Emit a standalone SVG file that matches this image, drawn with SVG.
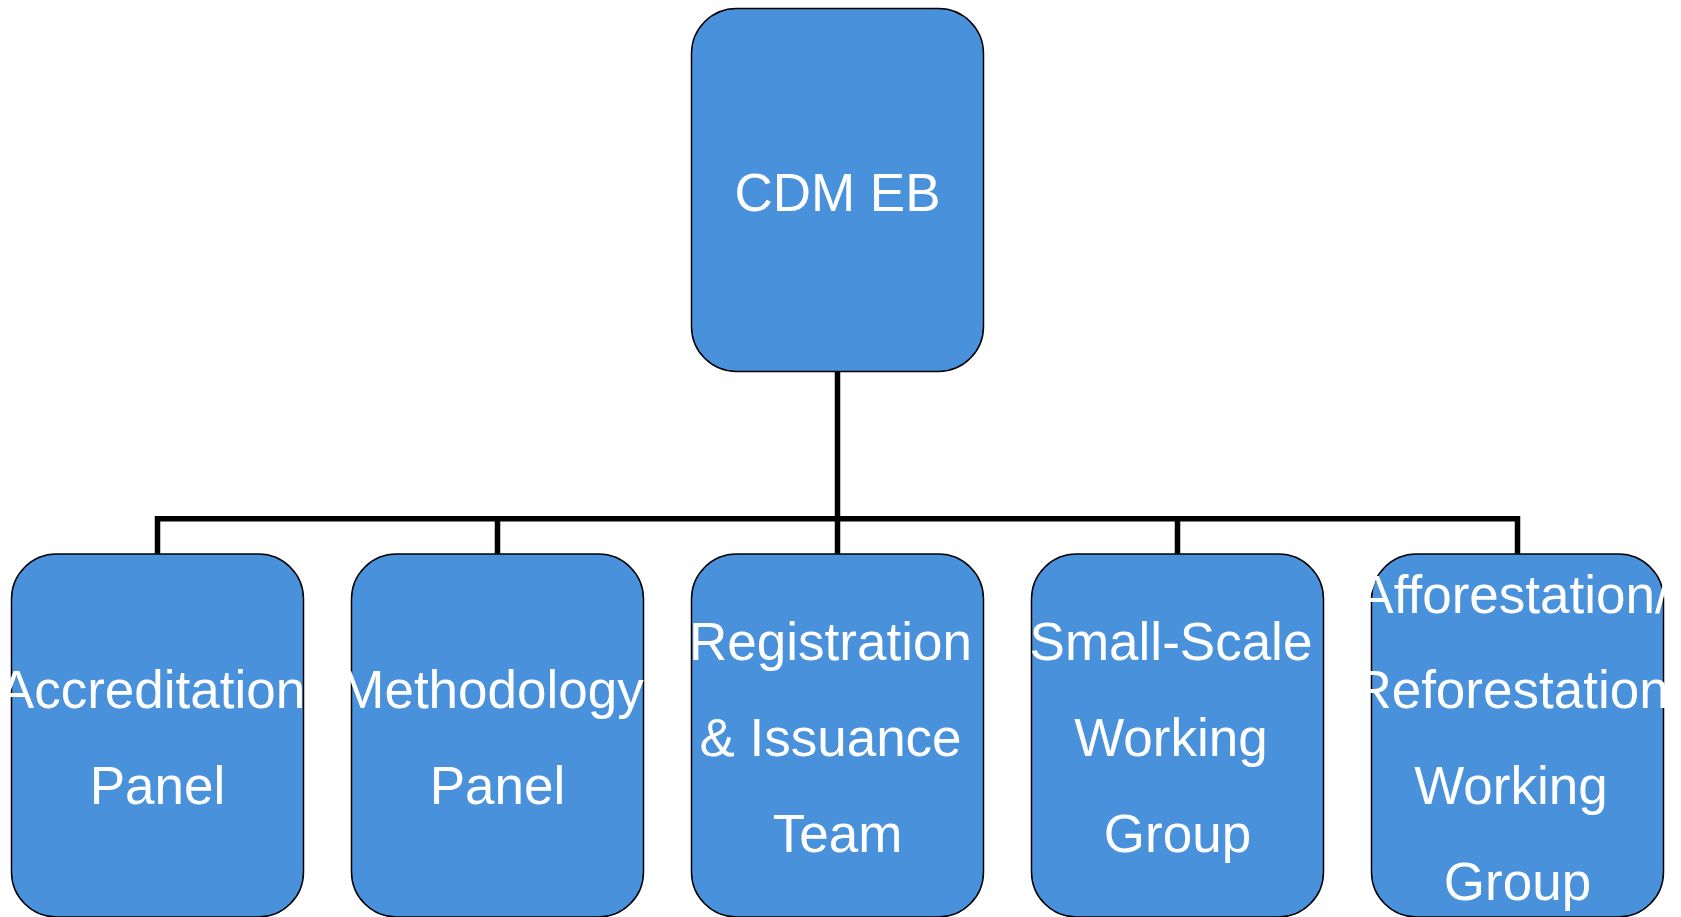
<svg xmlns="http://www.w3.org/2000/svg" width="1681" height="917" viewBox="0 0 1681 917">
<style>
.box{fill:#4A91DC;stroke:#000;stroke-width:1.5}
.lbl{font-family:"Liberation Sans",Arial,sans-serif;font-size:53px;fill:#fff;text-anchor:middle}
.conn{fill:none;stroke:#000;stroke-width:5.5;stroke-linejoin:miter}
</style>
<defs>
<clipPath id="c1"><rect x="8" y="552" width="299" height="368"/></clipPath>
<clipPath id="c2"><rect x="348" y="552" width="299" height="368"/></clipPath>
<clipPath id="c3"><rect x="688" y="552" width="299" height="368"/></clipPath>
<clipPath id="c4"><rect x="1028" y="552" width="299" height="368"/></clipPath>
<clipPath id="c5"><rect x="1368" y="552" width="299" height="368"/></clipPath>
</defs>
<rect width="1681" height="917" fill="#fff"/>
<g id="connectors">
<path class="conn" d="M837.5 371.7 V518.8 M157.5 554 V518.8 H1517.5 V554 M497.5 518.8 V554 M837.5 518.8 V554 M1177.5 518.8 V554"/>
</g>
<g id="cdm-eb">
<rect class="box" x="691.5" y="8.5" width="292" height="363" rx="45" ry="45"/>
<text class="lbl" x="837.5" y="210.7">CDM EB</text>
</g>
<g id="accreditation-panel">
<rect class="box" x="11.5" y="554" width="292" height="363" rx="45" ry="45"/>
<g clip-path="url(#c1)">
<text class="lbl" x="152" y="708.2">Accreditation</text>
<text class="lbl" x="157.5" y="803.9">Panel</text>
</g>
</g>
<g id="methodology-panel">
<rect class="box" x="351.5" y="554" width="292" height="363" rx="45" ry="45"/>
<g clip-path="url(#c2)">
<text class="lbl" x="492" y="708.2">Methodology</text>
<text class="lbl" x="497.5" y="803.9">Panel</text>
</g>
</g>
<g id="registration-issuance-team">
<rect class="box" x="691.5" y="554" width="292" height="363" rx="45" ry="45"/>
<g clip-path="url(#c3)">
<text class="lbl" x="830.5" y="660.3">Registration</text>
<text class="lbl" x="830.5" y="756">&amp; Issuance</text>
<text class="lbl" x="837.5" y="851.7">Team</text>
</g>
</g>
<g id="small-scale-working-group">
<rect class="box" x="1031.5" y="554" width="292" height="363" rx="45" ry="45"/>
<g clip-path="url(#c4)">
<text class="lbl" x="1171" y="660.3">Small-Scale</text>
<text class="lbl" x="1171" y="756">Working</text>
<text class="lbl" x="1177.5" y="851.7">Group</text>
</g>
</g>
<g id="ar-working-group">
<rect class="box" x="1371.5" y="554" width="292" height="363" rx="45" ry="45"/>
<g clip-path="url(#c5)">
<text class="lbl" x="1514" y="612.5">Afforestation/</text>
<text class="lbl" x="1511" y="708.2">Reforestation</text>
<text class="lbl" x="1511" y="803.9">Working</text>
<text class="lbl" x="1517.5" y="899.6">Group</text>
</g>
</g>
</svg>
